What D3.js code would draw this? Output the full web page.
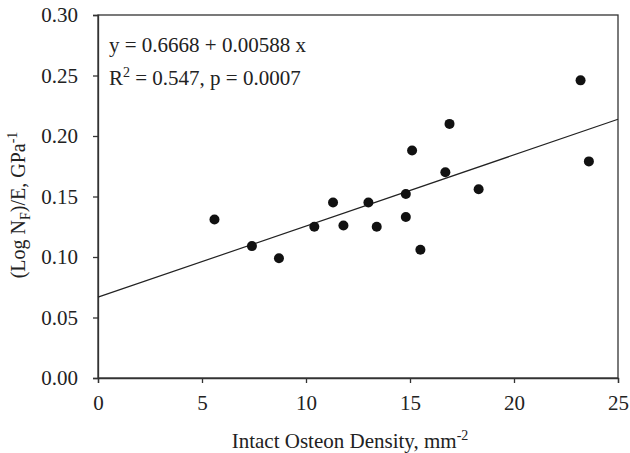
<!DOCTYPE html>
<html>
<head>
<meta charset="utf-8">
<script src="https://cdn.jsdelivr.net/npm/d3@7"></script>
<style>
  body { margin: 0; background: #fff; }
  text { font-family: "Liberation Serif", "Times New Roman", serif; fill: #222; }
</style>
</head>
<body>
<div class="chart-holder"></div>
<script>
// osteon density (mm^-2) and (log Nf)/E (GPa^-1)
const density = [5.6, 7.4, 8.7, 10.4, 11.8, 13.4, 15.5, 11.3, 13.0, 14.8, 14.8, 15.1, 16.7, 16.9, 18.3, 23.2, 23.6];
const fatigue = [0.131, 0.109, 0.099, 0.125, 0.126, 0.125, 0.106, 0.145, 0.145, 0.152, 0.133, 0.188, 0.170, 0.210, 0.156, 0.246, 0.179];
const xTicks = [0, 5, 10, 15, 20, 25];
const yTicks = [0, 0.05, 0.10, 0.15, 0.20, 0.25, 0.30];
const fit = { intercept: 0.0668, slope: 0.00588 };

const width = 630, height = 453;
const margin = { top: 15, right: 12, bottom: 75, left: 98 };
const fs = 21;

const svg = d3.select('.chart-holder').append('svg')
  .attr('width', width).attr('height', height);

const x = d3.scaleLinear().domain([0, 25]).range([margin.left, width - margin.right]);
const y = d3.scaleLinear().domain([0, 0.30]).range([height - margin.bottom, margin.top]);

// frame
svg.append('rect')
  .attr('x', x(0)).attr('y', y(0.30))
  .attr('width', x(25) - x(0)).attr('height', y(0) - y(0.30))
  .attr('fill', 'none').attr('stroke', '#333').attr('stroke-width', 1.3);

const xAxis = svg.append('g')
  .attr('transform', `translate(0,${y(0)})`)
  .call(d3.axisBottom(x).tickValues(xTicks).tickSize(5).tickPadding(12).tickFormat(d3.format('d')));
const yAxis = svg.append('g')
  .attr('transform', `translate(${x(0)},0)`)
  .call(d3.axisLeft(y).tickValues(yTicks).tickSize(5).tickPadding(15).tickFormat(d3.format('.2f')));

[xAxis, yAxis].forEach(g => {
  g.select('.domain').attr('stroke', '#333').attr('stroke-width', 1.3);
  g.selectAll('.tick line').attr('stroke', '#333').attr('stroke-width', 1.3);
  g.selectAll('.tick text')
    .style('font-family', '"Liberation Serif", serif')
    .style('font-size', fs + 'px').attr('fill', '#222');
});

// regression line
svg.append('line')
  .attr('x1', x(0)).attr('y1', y(fit.intercept))
  .attr('x2', x(25)).attr('y2', y(fit.intercept + fit.slope * 25))
  .attr('stroke', '#222').attr('stroke-width', 1.2);

// points
svg.append('g').selectAll('circle')
  .data(density)
  .enter()
  .append('circle')
  .attr('cx', d => x(d))
  .attr('cy', (d, i) => y(fatigue[i]))
  .attr('r', 5)
  .attr('fill', '#111');

// equation text
svg.append('text')
  .attr('x', 109).attr('y', 52)
  .style('font-size', fs + 'px')
  .text('y = 0.6668 + 0.00588 x');

const r2 = svg.append('text')
  .attr('x', 109).attr('y', 85)
  .style('font-size', fs + 'px');
r2.append('tspan').text('R');
r2.append('tspan').attr('dy', -8).style('font-size', '14px').text('2');
r2.append('tspan').attr('dy', 8).text(' = 0.547, p = 0.0007');

// x title
const xt = svg.append('text')
  .attr('x', 350).attr('y', 448)
  .attr('text-anchor', 'middle')
  .style('font-size', fs + 'px');
xt.append('tspan').text('Intact Osteon Density, mm');
xt.append('tspan').attr('dy', -8).style('font-size', '14px').text('-2');

// y title
const yt = svg.append('text')
  .attr('transform', `translate(25,205) rotate(-90)`)
  .attr('text-anchor', 'middle')
  .style('font-size', '20px');
yt.append('tspan').text('(Log N');
yt.append('tspan').attr('dy', 5).style('font-size', '14px').text('F');
yt.append('tspan').attr('dy', -5).text(')/E, GPa');
yt.append('tspan').attr('dy', -8).style('font-size', '14px').text('-1');
</script>
</body>
</html>
